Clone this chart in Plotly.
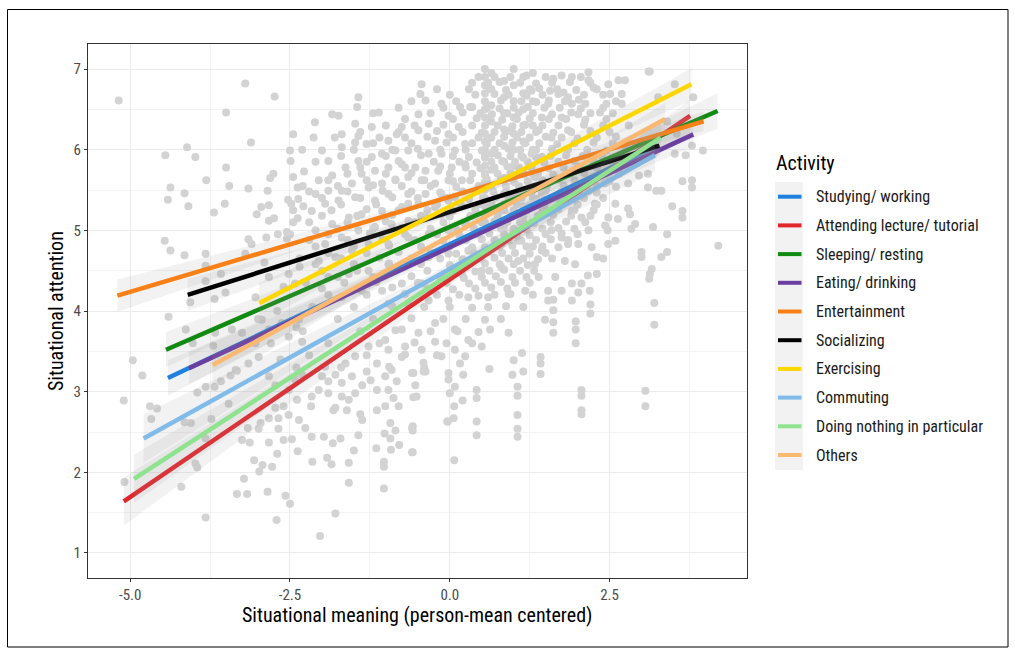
import plotly.graph_objects as go

# ---------------- data ----------------
activities = ["Studying/ working", "Attending lecture/ tutorial", "Sleeping/ resting",
              "Eating/ drinking", "Entertainment", "Socializing", "Exercising",
              "Commuting", "Doing nothing in particular", "Others"]
colors = ["#1F80E0", "#E0262B", "#118A11", "#6B3FA0", "#F88017",
          "#000000", "#FFD700", "#80BBEA", "#8FE38F", "#FAB870"]

# fitted line end points (x = situational meaning, y = situational attention)
line_x0 = [-4.41, -5.10, -4.44, -4.08, -5.20, -4.10, -2.98, -4.79, -4.94, -3.71]
line_y0 = [3.17, 1.64, 3.52, 3.29, 4.19, 4.20, 4.10, 2.42, 1.92, 3.33]
line_x1 = [3.25, 3.76, 4.19, 3.81, 3.97, 3.28, 3.78, 3.21, 3.30, 3.37]
line_y1 = [6.05, 6.42, 6.48, 6.19, 6.35, 6.05, 6.81, 5.93, 6.15, 6.38]
# confidence band half-widths at start, narrowest point, end
band_xm = [0.0, 0.3, 0.2, 0.0, -0.5, -0.3, 0.6, -0.3, -0.2, 0.0]
band_s0 = [0.22, 0.30, 0.22, 0.20, 0.20, 0.20, 0.25, 0.30, 0.30, 0.25]
band_sm = [0.05, 0.06, 0.05, 0.05, 0.04, 0.05, 0.06, 0.06, 0.06, 0.05]
band_s1 = [0.15, 0.20, 0.22, 0.15, 0.12, 0.12, 0.20, 0.20, 0.20, 0.20]

x_tickvals = [-5.0, -2.5, 0.0, 2.5]
x_ticktext = ["-5.0", "-2.5", "0.0", "2.5"]
y_tickvals = [1, 2, 3, 4, 5, 6, 7]

# observations (sparse outer points)
points_outer = [
    (-5.18, 6.61), (-3.20, 6.82), (-2.74, 6.66), (-3.50, 6.46), (-2.45, 6.19), (-3.11, 6.09),
    (-4.11, 6.03), (-4.45, 5.93), (-3.98, 5.91), (-2.50, 5.99), (-2.31, 6.00), (-2.49, 5.86),
    (-3.50, 5.78), (-2.76, 5.70), (-2.81, 5.65), (-3.81, 5.62), (-2.45, 5.66), (-2.28, 5.73),
    (-4.37, 5.53), (-3.45, 5.55), (-3.15, 5.52), (-2.85, 5.49), (-2.38, 5.53), (-4.15, 5.46),
    (-4.41, 5.38), (-4.09, 5.30), (-3.52, 5.33), (-3.69, 5.22), (-3.02, 5.20), (-2.95, 5.29),
    (-2.83, 5.31), (-2.83, 5.12), (-2.75, 5.15), (-2.53, 5.38), (-2.48, 5.33), (-2.37, 5.39),
    (-2.29, 5.30), (-2.38, 5.15), (-4.46, 4.87), (-4.37, 4.75), (-4.15, 4.69), (-3.82, 4.71),
    (-3.15, 4.89), (-3.10, 4.83), (-2.87, 4.91), (-2.69, 4.95), (-2.55, 4.98), (-3.20, 4.71),
    (-3.82, 4.56), (-3.58, 4.46), (-3.82, 4.37), (-3.51, 4.23), (-3.68, 4.15), (-4.06, 4.11),
    (-2.83, 4.42), (-2.52, 4.46), (-3.04, 4.17), (-2.42, 4.34),
    (-4.96, 3.39), (-4.81, 3.20), (-5.10, 2.89), (-4.69, 2.82), (-4.58, 2.79), (-4.67, 2.66),
    (-5.09, 1.88), (-4.20, 1.82), (-3.82, 1.44), (-4.40, 3.93), (-4.13, 3.77), (-4.02, 3.60),
    (-3.70, 3.57), (-3.95, 2.99), (-3.82, 3.06), (-3.68, 3.06), (-3.58, 3.13), (-3.43, 3.20),
    (-3.33, 3.26), (-3.46, 2.85), (-3.73, 2.66), (-4.15, 2.62), (-4.05, 2.61), (-3.82, 2.42),
    (-3.98, 2.11), (-3.95, 2.06), (-3.22, 1.92), (-3.33, 1.73), (-3.17, 1.73), (-2.85, 1.76),
    (-2.57, 1.71), (-2.50, 1.61), (-2.71, 1.41), (-3.06, 2.15), (-2.98, 2.01), (-2.93, 2.09),
    (-2.78, 2.07), (-2.70, 2.23), (-3.25, 2.40), (-3.13, 2.37), (-2.83, 2.37), (-2.60, 2.40),
    (-2.47, 2.41), (-2.38, 2.26), (-2.96, 2.61), (-2.83, 2.67), (-2.68, 2.67), (-2.52, 2.71),
    (-2.36, 2.65), (-3.16, 2.55), (-2.99, 2.54), (-2.68, 2.54), (-2.73, 2.80), (-2.60, 2.82),
    (-2.39, 2.90), (-2.26, 2.55), (-3.35, 3.27), (-3.15, 3.35), (-2.99, 3.43), (-2.83, 3.19),
    (-2.73, 3.08), (-2.52, 3.02), (-2.42, 3.15), (-2.31, 3.21), (-3.04, 3.60), (-2.83, 3.77),
    (-2.52, 3.68), (-2.31, 3.62), (-2.94, 3.89), (-2.63, 3.85), (-2.36, 3.89), (-3.41, 3.77),
    (-3.25, 3.73), (-3.67, 3.73),
    (-2.03, 1.21), (-1.79, 1.49), (-1.58, 1.87), (-1.03, 1.80), (-2.15, 2.13), (-1.92, 2.18),
    (-1.85, 2.10), (-1.58, 2.12), (-1.03, 2.13), (-1.03, 2.07), (0.07, 2.15), (-2.16, 2.44),
    (-1.97, 2.44), (-1.83, 2.36), (-1.71, 2.42), (-1.50, 2.27), (-1.43, 2.46), (-1.15, 2.30),
    (-0.92, 2.28), (-0.79, 2.34), (-0.58, 2.25), (-1.02, 2.48), (-0.93, 2.42), (-0.93, 2.61),
    (-0.85, 2.52), (-0.58, 2.57), (-0.58, 2.52), (-0.03, 2.63), (0.06, 2.67), (0.42, 2.63),
    (0.42, 2.46), (1.06, 2.71), (1.06, 2.54), (1.06, 2.44), (-2.17, 2.82), (-1.82, 2.77),
    (-1.61, 2.77), (-1.40, 2.72), (-1.37, 2.65), (-1.14, 2.77), (-1.01, 2.82), (-0.80, 2.82),
    (-0.57, 2.93), (-0.52, 2.94), (0.07, 2.82), (0.42, 3.02), (0.42, 2.92), (0.20, 2.89),
    (1.06, 3.06), (1.06, 2.95), (0.62, 3.28), (0.98, 3.21), (1.15, 3.25), (-0.02, 3.15),
    (0.08, 3.06), (-0.02, 3.23), (0.21, 3.21), (0.16, 3.35), (-0.38, 3.25), (-0.57, 3.23),
    (-0.54, 3.08), (-0.41, 3.36), (-0.75, 3.43), (-0.91, 3.27), (-0.83, 3.13), (-0.96, 3.02),
    (-0.88, 2.92), (-1.14, 3.02), (-1.01, 3.19), (-1.24, 3.14), (-1.37, 3.08), (-1.48, 2.98),
    (-1.58, 2.90), (-1.79, 2.80), (-1.69, 2.94), (-1.90, 2.98), (-2.05, 3.02), (-2.16, 2.94),
    (-1.53, 3.19), (-1.69, 3.11), (-1.79, 3.21), (-1.90, 3.13), (-1.30, 3.25), (-1.14, 3.35),
    (-0.96, 3.52), (-0.70, 3.56), (-0.44, 3.52), (-0.23, 3.62), (-0.13, 3.44), (0.08, 3.52),
    (0.24, 3.44), (0.50, 3.56), (0.63, 3.77), (0.92, 3.73), (1.00, 3.39), (1.13, 3.48),
    (-0.23, 3.85), (0.08, 3.77), (0.29, 3.64), (-0.49, 3.73), (-0.75, 3.77), (-1.01, 3.64),
    (-1.27, 3.56), (-1.48, 3.44), (-1.63, 3.35), (-1.95, 3.31), (-2.00, 3.19),
    (3.20, 3.83), (3.06, 3.01), (3.06, 2.82), (2.06, 3.02), (2.06, 2.95), (2.06, 2.77),
    (2.06, 2.72), (1.42, 3.43), (1.42, 3.35), (1.42, 3.22), (1.97, 3.87), (1.97, 3.77),
    (1.97, 3.60), (1.62, 3.86), (1.62, 3.73), (2.20, 3.97), (1.49, 3.89), (2.20, 4.08),
    (3.20, 4.10), (1.62, 4.14), (1.62, 4.01), (-0.59, 3.23), (-0.41, 3.25), (-0.04, 2.63),
    (0.0, 2.98), (-0.59, 2.55), (-0.59, 2.25),
    (4.20, 4.81), (3.40, 4.73), (3.31, 4.67), (3.00, 4.73), (3.00, 4.67), (3.16, 4.52),
    (3.13, 4.46), (3.12, 4.40), (3.40, 4.95), (3.18, 5.04), (3.48, 5.30), (3.64, 5.24),
    (3.64, 5.16), (3.79, 5.62), (3.79, 5.53), (3.64, 5.61), (3.96, 5.99), (3.79, 6.05),
    (3.69, 5.93), (3.52, 5.95), (3.81, 6.65), (3.52, 6.81), (3.13, 6.97), (3.26, 6.65),
    (3.31, 5.49), (3.10, 5.53), (3.23, 5.49), (3.10, 5.70), (2.79, 5.27), (2.82, 5.20),
    (2.84, 5.02), (2.90, 5.08), (2.59, 5.33), (2.63, 5.14), (2.48, 5.16), (2.43, 5.06),
    (2.47, 5.00), (2.48, 4.83), (2.59, 4.87), (2.79, 5.58), (2.96, 5.68), (2.30, 4.67),
    (2.22, 4.79), (2.40, 4.65), (2.30, 4.46), (2.16, 4.44), (2.06, 4.34), (1.91, 4.34),
    (2.01, 4.23), (2.19, 4.25), (1.91, 4.13), (1.75, 4.25), (1.65, 4.42), (1.54, 4.25),
    (1.54, 4.13), (1.39, 4.42), (1.80, 4.62), (1.96, 4.58), (2.01, 4.83), (1.85, 4.83),
    (1.75, 4.91), (2.17, 5.00), (2.06, 5.16), (2.27, 5.33), (1.91, 5.24), (1.59, 5.00),
    (1.44, 4.75), (1.33, 4.58), (3.11, 6.97), (3.40, 6.35), (3.55, 6.20),
]

# observations (upper cloud)
points_upper = [
    (1.85, 6.65), (1.91, 6.90), (2.17, 6.96), (2.17, 6.86), (2.48, 6.81), (2.64, 6.86),
    (2.74, 6.86), (2.51, 6.69), (2.69, 6.69), (2.25, 6.77), (1.62, 6.88), (1.57, 6.73),
    (1.78, 6.71), (1.91, 6.57), (2.12, 6.57), (2.35, 6.46), (2.45, 6.57), (2.69, 6.57),
    (2.01, 6.44), (1.75, 6.40), (1.54, 6.57), (1.44, 6.40), (1.28, 6.73), (1.39, 6.24),
    (1.59, 6.15), (1.85, 6.24), (1.28, 5.95), (1.44, 5.91), (1.33, 5.66), (1.44, 5.45),
    (1.75, 5.37), (2.17, 5.49), (2.43, 5.58), (1.54, 5.24),
    (-1.43, 6.65), (-1.45, 6.53), (-1.11, 6.46), (-1.84, 6.44), (-1.74, 6.42), (-2.11, 6.34),
    (-0.44, 6.81), (-0.46, 6.69), (-0.38, 6.61), (-0.13, 6.57), (0.16, 6.53), (0.32, 6.53),
    (-0.02, 6.42), (-0.49, 6.44), (-1.48, 6.32), (-1.69, 6.19), (-1.43, 6.17), (-1.22, 6.28),
    (-0.96, 6.11), (-0.75, 6.28), (-0.83, 6.19), (-2.13, 6.15), (-2.00, 5.99), (-1.69, 6.03),
    (-1.48, 6.09), (-1.30, 6.07), (-1.06, 5.95), (-0.85, 5.99), (-0.65, 5.99), (-0.49, 6.24),
    (-0.33, 6.32), (-0.23, 6.11), (-0.02, 6.19), (0.14, 6.28), (0.24, 6.07), (0.08, 5.99),
    (-0.13, 5.95), (-0.33, 5.95), (-1.90, 5.86), (-2.05, 5.62), (-1.84, 5.68), (-1.63, 5.78),
    (-1.43, 5.86), (-1.22, 5.91), (-1.38, 5.70), (-1.17, 5.74), (-0.96, 5.78), (-0.75, 5.82),
    (-0.54, 5.78), (-0.38, 5.74), (-0.18, 5.74), (0.03, 5.78), (0.24, 5.82), (-2.10, 5.45),
    (-1.90, 5.49), (-1.69, 5.49), (-1.53, 5.58), (-1.27, 5.53), (-1.06, 5.58), (-0.85, 5.62),
    (-0.65, 5.66), (-0.44, 5.62), (-0.23, 5.58), (-0.02, 5.62), (0.19, 5.62), (-2.16, 5.24),
    (-1.95, 5.33), (-1.74, 5.37), (-1.48, 5.41), (-1.17, 5.37), (-0.96, 5.45), (-0.65, 5.45),
    (-0.38, 5.45), (-0.13, 5.45), (0.08, 5.41), (-2.10, 5.00), (-1.84, 5.08), (-1.58, 5.16),
    (-1.38, 5.20), (-1.06, 5.24), (-0.75, 5.29), (-0.49, 5.33), (-0.23, 5.29), (-0.02, 5.37),
    (-1.95, 4.83), (-1.69, 4.91), (-1.43, 5.00), (-1.17, 5.04), (-0.91, 5.08), (-0.65, 5.12),
    (-0.38, 5.16), (-0.13, 5.20), (-2.05, 4.62), (-1.79, 4.67), (-1.53, 4.75), (-1.27, 4.83),
    (-0.96, 4.83), (-0.65, 4.91), (-0.33, 4.95), (-0.02, 5.00), (0.24, 5.08), (-1.90, 4.42),
    (-1.58, 4.46), (-1.27, 4.50), (-0.96, 4.58), (-0.65, 4.62), (-0.33, 4.67), (-0.02, 4.71),
    (0.29, 4.75), (0.55, 4.79), (0.81, 4.83), (1.07, 4.87), (-1.69, 4.17), (-1.38, 4.25),
    (-1.06, 4.25), (-0.75, 4.34), (-0.44, 4.34), (-0.13, 4.42), (0.19, 4.46), (0.50, 4.50),
    (0.81, 4.54), (1.07, 4.62), (-0.96, 4.09), (-0.65, 4.09), (-0.33, 4.13), (-0.02, 4.13),
    (0.29, 4.17), (0.60, 4.17), (0.92, 4.21), (1.18, 4.25),
]

# observations (dense columns and core)
points_core = [
    (0.55, 7.00), (0.55, 6.90), (0.55, 6.80), (0.55, 6.70), (0.55, 6.60), (0.55, 6.50),
    (0.55, 6.40), (0.55, 6.30), (0.55, 6.20), (0.55, 6.10), (0.55, 6.00), (0.55, 5.90),
    (0.55, 5.80), (0.55, 5.70), (0.55, 5.60), (0.55, 5.50), (0.55, 5.40), (0.55, 5.30),
    (0.55, 5.20), (0.55, 5.10), (0.65, 6.95), (0.65, 6.75), (0.65, 6.55), (0.65, 6.35),
    (0.65, 6.15), (0.65, 5.95), (0.65, 5.75), (0.65, 5.55), (0.65, 5.35), (0.85, 6.85),
    (0.85, 6.65), (0.85, 6.45), (0.85, 6.25), (0.85, 6.05), (0.85, 5.85), (0.85, 5.65),
    (0.85, 5.45), (0.85, 5.25), (0.85, 5.05), (1.00, 7.00), (1.00, 6.80), (1.00, 6.60),
    (1.00, 6.40), (1.00, 6.20), (1.00, 6.00), (1.00, 5.80), (1.00, 5.60), (1.00, 5.40),
    (1.00, 5.20), (1.00, 5.00), (1.15, 6.90), (1.15, 6.70), (1.15, 6.50), (1.15, 6.30),
    (1.15, 6.10), (1.15, 5.90), (1.15, 5.70), (1.15, 5.50), (1.15, 5.30), (1.15, 5.10),
    (1.30, 6.95), (1.30, 6.60), (1.30, 6.30), (1.30, 6.00), (1.30, 5.70), (1.30, 5.40),
    (1.30, 5.10), (1.30, 4.80),
    (0.45, 6.90), (0.70, 6.90), (0.95, 6.90), (1.20, 6.92), (1.50, 6.90), (1.75, 6.92), (2.05, 6.90),
    (-0.20, 6.75), (0.30, 6.75), (0.62, 6.76), (0.88, 6.74), (1.25, 6.75), (1.40, 6.76),
    (1.68, 6.75), (1.98, 6.74), (2.30, 6.75),
    (-0.60, 6.60), (0.10, 6.60), (0.80, 6.61), (1.12, 6.60), (1.35, 6.59), (1.55, 6.61),
    (1.80, 6.60), (2.02, 6.62), (2.60, 6.60),
    (-1.20, 6.45), (-0.30, 6.45), (0.20, 6.46), (0.48, 6.45), (0.66, 6.44), (0.90, 6.45),
    (1.08, 6.46), (1.30, 6.45), (1.60, 6.44), (1.90, 6.46), (2.20, 6.45), (2.55, 6.45),
    (-1.00, 6.30), (-0.55, 6.30), (-0.10, 6.31), (0.35, 6.30), (0.75, 6.30), (0.98, 6.29),
    (1.18, 6.31), (1.45, 6.30), (1.70, 6.30), (2.10, 6.31), (2.40, 6.30), (2.80, 6.30),
    (-1.80, 6.15), (-1.10, 6.15), (-0.70, 6.15), (-0.35, 6.16), (0.05, 6.15), (0.45, 6.15),
    (0.60, 6.14), (0.85, 6.16), (1.05, 6.15), (1.25, 6.15), (1.50, 6.16), (1.75, 6.15),
    (2.00, 6.14), (2.30, 6.15), (2.60, 6.16),
    (-1.50, 6.00), (-0.90, 6.00), (-0.50, 6.01), (-0.15, 6.00), (0.25, 6.00), (0.50, 5.99),
    (0.70, 6.00), (0.92, 6.01), (1.10, 6.00), (1.35, 6.00), (1.60, 6.01), (1.85, 6.00),
    (2.15, 6.00), (2.45, 5.99), (2.75, 6.00),
    (-2.10, 5.85), (-1.30, 5.85), (-0.80, 5.86), (-0.25, 5.85), (0.15, 5.85), (0.42, 5.84),
    (0.65, 5.85), (0.82, 5.86), (1.02, 5.85), (1.22, 5.85), (1.48, 5.84), (1.70, 5.85),
    (1.95, 5.86), (2.25, 5.85), (2.55, 5.85), (2.85, 5.84),
    (-1.60, 5.70), (-1.00, 5.70), (-0.60, 5.71), (0.00, 5.70), (0.35, 5.70), (0.55, 5.69),
    (0.75, 5.70), (0.95, 5.71), (1.15, 5.70), (1.38, 5.70), (1.62, 5.69), (1.88, 5.70),
    (2.10, 5.71), (2.35, 5.70), (2.65, 5.70),
    (-2.30, 5.55), (-1.75, 5.55), (-1.20, 5.56), (-0.75, 5.55), (-0.30, 5.55), (0.10, 5.54),
    (0.45, 5.55), (0.62, 5.56), (0.88, 5.55), (1.08, 5.55), (1.30, 5.54), (1.52, 5.55),
    (1.78, 5.56), (2.00, 5.55), (2.30, 5.55), (2.60, 5.54),
    (-2.00, 5.40), (-1.40, 5.40), (-0.90, 5.41), (-0.50, 5.40), (-0.05, 5.40), (0.30, 5.39),
    (0.52, 5.40), (0.72, 5.41), (0.92, 5.40), (1.12, 5.40), (1.35, 5.39), (1.60, 5.40),
    (1.85, 5.41), (2.10, 5.40), (2.40, 5.40),
    (-2.45, 5.25), (-1.85, 5.25), (-1.30, 5.26), (-0.80, 5.25), (-0.35, 5.25), (0.05, 5.24),
    (0.40, 5.25), (0.60, 5.26), (0.80, 5.25), (1.00, 5.25), (1.20, 5.24), (1.45, 5.25),
    (1.70, 5.26), (1.95, 5.25), (2.25, 5.25),
    (-2.20, 5.10), (-1.60, 5.10), (-1.00, 5.11), (-0.55, 5.10), (-0.10, 5.10), (0.25, 5.09),
    (0.50, 5.10), (0.70, 5.11), (0.90, 5.10), (1.10, 5.10), (1.32, 5.09), (1.58, 5.10),
    (1.82, 5.11), (2.12, 5.10),
    (-2.50, 4.95), (-1.90, 4.95), (-1.25, 4.96), (-0.70, 4.95), (-0.20, 4.95), (0.15, 4.94),
    (0.42, 4.95), (0.62, 4.96), (0.85, 4.95), (1.05, 4.95), (1.25, 4.94), (1.50, 4.95),
    (1.75, 4.96), (2.00, 4.95),
    (-2.10, 4.80), (-1.50, 4.80), (-0.95, 4.81), (-0.45, 4.80), (0.00, 4.80), (0.35, 4.79),
    (0.78, 4.80), (0.98, 4.81), (1.20, 4.80), (1.45, 4.80), (1.70, 4.79),
    (-2.35, 4.65), (-1.70, 4.65), (-1.10, 4.66), (-0.60, 4.65), (-0.15, 4.65), (0.20, 4.64),
    (0.48, 4.65), (0.70, 4.66), (0.92, 4.65), (1.15, 4.65), (1.38, 4.64), (1.60, 4.65),
    (-2.00, 4.50), (-1.45, 4.50), (-0.85, 4.51), (-0.35, 4.50), (0.08, 4.50), (0.40, 4.49),
    (0.62, 4.50), (0.85, 4.51), (1.10, 4.50), (1.32, 4.50),
    (-2.25, 4.35), (-1.65, 4.35), (-1.15, 4.36), (-0.50, 4.35), (-0.05, 4.35), (0.30, 4.34),
    (0.55, 4.35), (0.80, 4.36), (1.02, 4.35), (1.25, 4.35),
    (-1.90, 4.20), (-1.30, 4.20), (-0.70, 4.21), (-0.20, 4.20), (0.15, 4.20), (0.45, 4.19),
    (0.70, 4.20), (0.95, 4.21), (1.30, 4.20),
    (-2.15, 4.05), (-1.50, 4.05), (-0.90, 4.06), (-0.40, 4.05), (0.00, 4.05), (0.35, 4.04),
    (0.60, 4.05), (0.88, 4.06), (1.15, 4.05),
    (-1.75, 3.90), (-1.20, 3.90), (-0.60, 3.91), (-0.10, 3.90), (0.25, 3.90), (0.55, 3.89),
    (0.80, 3.90),
    (-2.30, 3.75), (-1.40, 3.75), (-0.85, 3.76), (-0.30, 3.75), (0.12, 3.75), (0.45, 3.74),
    (-1.90, 3.60), (-1.10, 3.60), (-0.55, 3.61), (-0.05, 3.60), (0.35, 3.60),
    (-2.20, 3.45), (-1.30, 3.45), (-0.70, 3.46), (-0.20, 3.45),
    (-2.40, 3.30), (-1.70, 3.30), (-0.95, 3.31), (-0.40, 3.30),
    (-2.90, 4.60), (-2.60, 4.30), (-2.70, 4.00), (-2.40, 3.80), (-2.55, 4.90), (-2.35, 4.55),
    (-2.80, 3.60), (-3.00, 3.90), (-2.65, 3.40), (-2.45, 5.10),
]

# observations (core, in-between rows)
points_core2 = [
    (0.35, 6.83), (0.60, 6.83), (0.78, 6.84), (1.10, 6.83), (1.35, 6.82), (1.60, 6.83),
    (1.88, 6.84), (2.20, 6.83),
    (0.00, 6.68), (0.40, 6.68), (0.70, 6.69), (0.92, 6.68), (1.20, 6.67), (1.45, 6.68),
    (1.70, 6.69), (2.10, 6.68), (2.40, 6.68),
    (-0.80, 6.52), (-0.10, 6.52), (0.35, 6.53), (0.58, 6.52), (0.78, 6.51), (1.00, 6.52),
    (1.22, 6.53), (1.48, 6.52), (1.72, 6.52), (2.05, 6.51), (2.40, 6.52),
    (-0.70, 6.38), (0.05, 6.38), (0.42, 6.39), (0.62, 6.38), (0.82, 6.37), (1.05, 6.38),
    (1.25, 6.39), (1.55, 6.38), (1.82, 6.38), (2.12, 6.37), (2.45, 6.38),
    (-1.40, 6.22), (-0.80, 6.22), (-0.20, 6.23), (0.20, 6.22), (0.50, 6.21), (0.70, 6.22),
    (0.90, 6.23), (1.12, 6.22), (1.35, 6.22), (1.62, 6.21), (1.90, 6.22), (2.20, 6.23),
    (2.50, 6.22),
    (-1.20, 6.08), (-0.60, 6.08), (-0.05, 6.09), (0.35, 6.08), (0.58, 6.07), (0.78, 6.08),
    (0.98, 6.09), (1.18, 6.08), (1.40, 6.08), (1.68, 6.07), (1.95, 6.08), (2.25, 6.09),
    (2.55, 6.08),
    (-1.70, 5.92), (-1.00, 5.92), (-0.45, 5.93), (0.05, 5.92), (0.30, 5.91), (0.55, 5.92),
    (0.75, 5.93), (0.95, 5.92), (1.12, 5.92), (1.35, 5.91), (1.58, 5.92), (1.82, 5.93),
    (2.08, 5.92), (2.38, 5.92), (2.70, 5.91),
    (-1.40, 5.78), (-0.70, 5.78), (-0.15, 5.79), (0.25, 5.78), (0.48, 5.77), (0.70, 5.78),
    (0.90, 5.79), (1.08, 5.78), (1.28, 5.78), (1.55, 5.77), (1.78, 5.78), (2.02, 5.79),
    (2.30, 5.78), (2.60, 5.78),
    (-1.90, 5.62), (-1.30, 5.62), (-0.85, 5.63), (-0.40, 5.62), (0.05, 5.61), (0.32, 5.62),
    (0.58, 5.63), (0.80, 5.62), (1.00, 5.62), (1.22, 5.61), (1.45, 5.62), (1.70, 5.63),
    (1.95, 5.62), (2.20, 5.62), (2.50, 5.61),
    (-2.20, 5.48), (-1.60, 5.48), (-1.05, 5.49), (-0.60, 5.48), (-0.15, 5.47), (0.20, 5.48),
    (0.45, 5.49), (0.68, 5.48), (0.88, 5.48), (1.08, 5.47), (1.28, 5.48), (1.50, 5.49),
    (1.75, 5.48), (2.02, 5.48), (2.30, 5.47),
    (-1.70, 5.32), (-1.15, 5.32), (-0.65, 5.33), (-0.20, 5.32), (0.18, 5.31), (0.45, 5.32),
    (0.65, 5.33), (0.85, 5.32), (1.05, 5.32), (1.25, 5.31), (1.48, 5.32), (1.72, 5.33),
    (2.00, 5.32), (2.30, 5.32),
    (-2.00, 5.18), (-1.45, 5.18), (-0.90, 5.19), (-0.45, 5.18), (0.00, 5.17), (0.32, 5.18),
    (0.55, 5.19), (0.75, 5.18), (0.95, 5.18), (1.15, 5.17), (1.38, 5.18), (1.62, 5.19),
    (1.90, 5.18), (2.20, 5.18),
    (-1.75, 5.02), (-1.20, 5.02), (-0.75, 5.03), (-0.30, 5.02), (0.10, 5.01), (0.38, 5.02),
    (0.60, 5.03), (0.80, 5.02), (1.00, 5.02), (1.20, 5.01), (1.45, 5.02), (1.70, 5.03),
    (1.95, 5.02),
    (-2.20, 4.88), (-1.60, 4.88), (-1.05, 4.89), (-0.55, 4.88), (-0.10, 4.87), (0.25, 4.88),
    (0.50, 4.89), (0.70, 4.88), (0.92, 4.88), (1.12, 4.87), (1.35, 4.88), (1.58, 4.89),
    (1.85, 4.88),
    (-1.90, 4.72), (-1.30, 4.72), (-0.80, 4.73), (-0.30, 4.72), (0.10, 4.71), (0.38, 4.72),
    (0.60, 4.73), (0.82, 4.72), (1.02, 4.72), (1.25, 4.71), (1.50, 4.72),
    (-2.10, 4.58), (-1.50, 4.58), (-0.95, 4.59), (-0.45, 4.58), (0.00, 4.57), (0.30, 4.58),
    (0.55, 4.59), (0.78, 4.58), (1.00, 4.58), (1.22, 4.57),
    (-1.75, 4.42), (-1.20, 4.42), (-0.60, 4.43), (-0.15, 4.42), (0.22, 4.41), (0.50, 4.42),
    (0.72, 4.43), (0.98, 4.42), (1.20, 4.42),
    (-2.00, 4.28), (-1.40, 4.28), (-0.90, 4.29), (-0.35, 4.28), (0.05, 4.27), (0.40, 4.28),
    (0.65, 4.29), (0.90, 4.28),
]

# ---------------- layout constants (pixels) ----------------
FIG_W, FIG_H = 1015, 655
L, R, T, B = 88, 747, 44, 578
PW, PH = R - L, B - T


def px(xp):
    return (xp - L) / PW


def py(yp):
    return (B - yp) / PH


FONT = "Roboto Condensed, Liberation Sans Narrow, Roboto, sans-serif"

fig = go.Figure()

all_pts = points_outer + points_upper + points_core + points_core2
fig.add_trace(go.Scatter(
    x=[p[0] for p in all_pts], y=[p[1] for p in all_pts], mode="markers",
    marker=dict(size=8, color="#D3D3D3", line=dict(width=0)),
    showlegend=False, hoverinfo="skip"))

for i, name in enumerate(activities):
    x0, x1, y0, y1 = line_x0[i], line_x1[i], line_y0[i], line_y1[i]
    xm = band_xm[i]
    ym = y0 + (y1 - y0) * (xm - x0) / (x1 - x0)
    bx = [x0, xm, x1, x1, xm, x0, x0]
    by = [y0 + band_s0[i], ym + band_sm[i], y1 + band_s1[i],
          y1 - band_s1[i], ym - band_sm[i], y0 - band_s0[i], y0 + band_s0[i]]
    fig.add_trace(go.Scatter(x=bx, y=by, mode="lines", fill="toself",
                             fillcolor="rgba(153,153,153,0.13)", line=dict(width=0),
                             showlegend=False, hoverinfo="skip"))
    fig.add_trace(go.Scatter(x=[x0, x1], y=[y0, y1], mode="lines",
                             line=dict(color=colors[i], width=4.5),
                             name=name, showlegend=False))

# ---------------- manual legend ----------------
shapes = []
annotations = []
shapes.append(dict(type="rect", xref="paper", yref="paper",
                   x0=px(775), x1=px(803), y0=py(470), y1=py(182),
                   fillcolor="#F2F2F2", line=dict(width=0), layer="below"))
leg_y0, leg_dy = 196.7, 28.7
for i, name in enumerate(activities):
    yy = leg_y0 + i * leg_dy
    shapes.append(dict(type="line", xref="paper", yref="paper",
                       x0=px(778), x1=px(801.5), y0=py(yy), y1=py(yy),
                       line=dict(color=colors[i], width=4)))
    annotations.append(dict(text=name, xref="paper", yref="paper", x=px(814), y=py(yy),
                            xanchor="left", yanchor="middle", showarrow=False,
                            font=dict(family=FONT, size=16, color="#1a1a1a")))
annotations.append(dict(text="Activity", xref="paper", yref="paper", x=px(774), y=py(163),
                        xanchor="left", yanchor="middle", showarrow=False,
                        font=dict(family=FONT, size=20, color="#000000")))

# axis titles
annotations.append(dict(text="Situational meaning (person-mean centered)", xref="paper",
                        yref="paper", x=px(417), y=py(615), xanchor="center",
                        yanchor="middle", showarrow=False,
                        font=dict(family=FONT, size=20, color="#000000")))
annotations.append(dict(text="Situational attention", xref="paper", yref="paper",
                        x=px(56), y=py(311), xanchor="center", yanchor="middle",
                        textangle=-90, showarrow=False,
                        font=dict(family=FONT, size=20, color="#000000")))

# outer frame
shapes.append(dict(type="rect", xref="paper", yref="paper",
                   x0=px(7.5), x1=px(1008), y0=py(647), y1=py(9.5),
                   line=dict(color="#000000", width=1)))

axis_common = dict(showline=True, mirror=True, linecolor="#333333", linewidth=1,
                   ticks="outside", ticklen=3, tickcolor="#333333", tickwidth=1,
                   showgrid=True, gridcolor="#EBEBEB", gridwidth=1, zeroline=False,
                   tickfont=dict(family=FONT, size=15, color="#4D4D4D"))

fig.update_layout(
    width=FIG_W, height=FIG_H,
    margin=dict(l=L, r=FIG_W - R, t=T, b=FIG_H - B),
    paper_bgcolor="white", plot_bgcolor="white",
    showlegend=False,
    shapes=shapes, annotations=annotations,
    xaxis=dict(range=[-5.66, 4.65], tickvals=x_tickvals, ticktext=x_ticktext,
               minor=dict(tickvals=[-3.75, -1.25, 1.25, 3.75], showgrid=True,
                          gridcolor="#F3F3F3", gridwidth=1, ticks=""),
               **axis_common),
    yaxis=dict(range=[0.69, 7.31], tickvals=y_tickvals,
               minor=dict(tickvals=[1.5, 2.5, 3.5, 4.5, 5.5, 6.5], showgrid=True,
                          gridcolor="#F3F3F3", gridwidth=1, ticks=""),
               **axis_common),
)

fig.write_html("out.html", config={"displayModeBar": False},
               post_script="document.body.style.margin='0';"
                           "document.body.style.padding='0';")
